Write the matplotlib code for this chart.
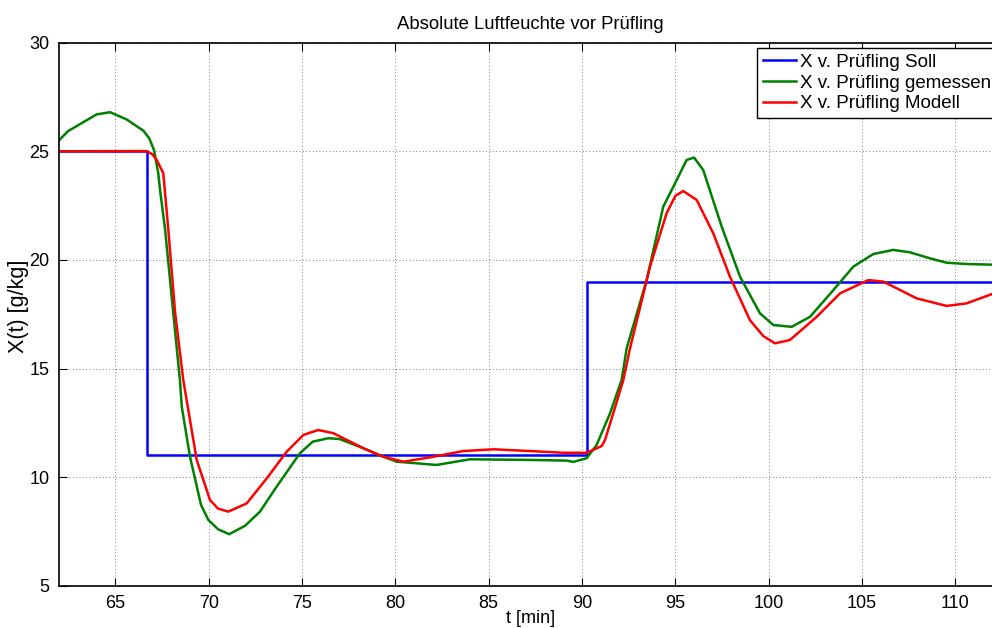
"""Absolute Luftfeuchte vor Pruefling: Soll, gemessen, Modell"""
import matplotlib
matplotlib.use('Agg')
import matplotlib.pyplot as plt

# setpoint (step profile)
soll_t = [62.0, 66.7, 66.7, 90.25, 90.25, 112.5]
soll_x = [25.0, 25.0, 11.0, 11.0, 19.0, 19.0]

# measured
mess_t = [62.0, 62.47, 64.0, 64.72, 65.6, 66.5, 66.82, 67.07, 67.3, 67.4, 67.67,
          68.1, 68.46, 68.56, 69.0, 69.59, 69.98, 70.5, 71.1, 71.95, 72.75, 73.64,
          74.89, 75.57, 76.41, 77.03, 78.28, 79.0, 80.07, 82.21, 84.0, 87.21, 89.18,
          89.53, 90.25, 90.78, 91.5, 92.12, 92.39, 93.46, 94.35, 95.07, 95.6,
          96.0, 96.49, 97.48, 98.46, 99.53, 100.25, 101.23, 102.21, 103.46,
          104.53, 105.6, 106.67, 107.56, 108.64, 109.53, 110.6, 111.96, 112.5]
mess_x = [25.52, 25.93, 26.70, 26.80, 26.47, 25.95, 25.6, 25.06, 24.0, 23.2, 21.37,
          17.6, 14.47, 13.24, 10.94, 8.72, 8.03, 7.6, 7.37, 7.76, 8.41, 9.56,
          11.1, 11.63, 11.79, 11.75, 11.33, 11.06, 10.71, 10.56, 10.82, 10.79, 10.76,
          10.70, 10.87, 11.48, 12.94, 14.47, 15.93, 19.07, 22.45, 23.68, 24.6,
          24.71, 24.14, 21.53, 19.23, 17.54, 17.0, 16.92, 17.38, 18.61,
          19.69, 20.27, 20.46, 20.35, 20.07, 19.87, 19.81, 19.78, 19.78]

# model
modell_t = [62.0, 66.68, 67.0, 67.22, 67.57, 67.84, 68.2, 68.64, 69.36, 70.07, 70.5,
            71.05, 72.04, 73.11, 74.18, 75.07, 75.87, 76.68, 78.28, 79.35, 80.43,
            81.86, 83.64, 85.25, 87.21, 88.99, 90.25, 91.05, 91.23, 91.67, 92.21,
            92.57, 93.64, 94.53, 95.0, 95.42, 96.14, 97.03, 97.92, 98.99, 99.7,
            100.33, 101.13, 102.57, 103.82, 105.33, 106.14, 107.92, 109.53, 110.6,
            111.96, 112.5]
modell_x = [25.0, 25.01, 24.85, 24.6, 23.99, 21.38, 17.6, 14.47, 10.79, 8.95, 8.55,
            8.41, 8.79, 9.94, 11.17, 11.94, 12.17, 12.02, 11.33, 10.94, 10.71,
            10.91, 11.2, 11.28, 11.2, 11.12, 11.12, 11.43, 11.71, 12.94, 14.47,
            15.93, 19.69, 22.15, 22.95, 23.17, 22.76, 21.22, 19.23, 17.23, 16.5,
            16.16, 16.31, 17.38, 18.46, 19.07, 19.0, 18.23, 17.88, 18.0,
            18.43, 18.55]

plt.rcParams['font.family'] = ['Liberation Sans', 'DejaVu Sans']

fig = plt.figure(figsize=(9.92, 6.28), dpi=100)
ax = fig.add_axes([59.3 / 992, 1 - 585.7 / 628, 941.7 / 992, 543 / 628])

ax.plot(soll_t, soll_x, color='#0000ff', lw=1.8, label='X v. Prüfling Soll')
ax.plot(mess_t, mess_x, color='#008000', lw=1.8, label='X v. Prüfling gemessen')
ax.plot(modell_t, modell_x, color='#ff0000', lw=1.8, label='X v. Prüfling Modell')

ax.set_xlim(62, 112.44)
ax.set_ylim(5, 30)
ax.set_xticks(range(65, 115, 5))
ax.set_yticks(range(5, 35, 5))
ax.tick_params(direction='in', length=6, width=0.8, top=True, right=True,
               labelsize=13, pad=7)
ax.grid(True, linestyle=(0, (1, 3)), color='#555555', lw=0.6)
for s in ax.spines.values():
    s.set_linewidth(1.2)

ax.set_title('Absolute Luftfeuchte vor Prüfling', fontsize=13.3, pad=10)
ax.set_xlabel('t [min]', fontsize=13, labelpad=-2)
# y label sits a bit above the axes centre in the original
fig.text(19 / 992, 1 - 306 / 628, 'X(t) [g/kg]', rotation=90, fontsize=15.5,
         ha='center', va='center')

leg = ax.legend(loc='upper left', bbox_to_anchor=(757 / 992, 1 - 48 / 628),
                bbox_transform=fig.transFigure, borderaxespad=0, fancybox=False,
                framealpha=1, edgecolor='black', fontsize=13.5, handlelength=1.8,
                labelspacing=0.2, handletextpad=0.2, borderpad=0.3)
leg.get_frame().set_linewidth(1.0)

fig.savefig('out.png', dpi=100)
